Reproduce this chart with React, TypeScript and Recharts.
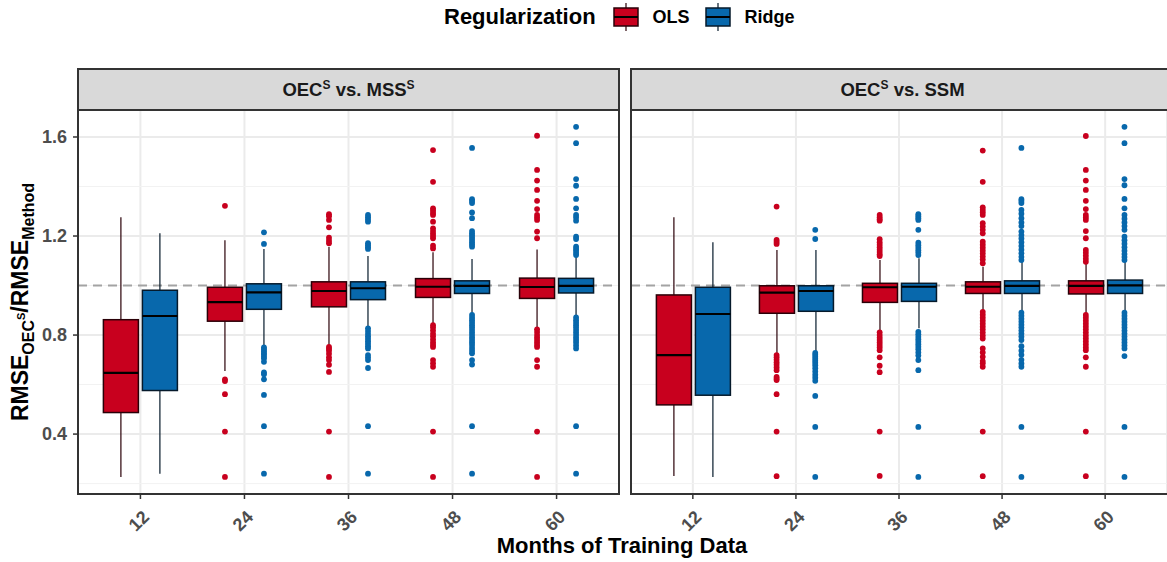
import React from "react";
import {
  ComposedChart,
  Bar,
  Scatter,
  XAxis,
  YAxis,
  CartesianGrid,
  ReferenceLine,
} from "recharts";

type Stats = [number, number, number, number, number]; // lower whisker, q1, median, q3, upper whisker

const months = ["12", "24", "36", "48", "60"];
const yTicks = [0.4, 0.8, 1.2, 1.6];
const yMinor = [0.2, 0.6, 1.0, 1.4];

const OLS_FILL = "#C8001E";
const RIDGE_FILL = "#0868AC";
const OLS_EDGE = "#2a0008";
const RIDGE_EDGE = "#061a2b";

// OEC^S vs. MSS^S
const mssOlsStats: Stats[] = [
  [0.227, 0.487, 0.647, 0.862, 1.276],
  [0.655, 0.856, 0.933, 0.993, 1.183],
  [0.759, 0.914, 0.978, 1.015, 1.157],
  [0.847, 0.952, 0.995, 1.028, 1.134],
  [0.827, 0.948, 0.994, 1.03, 1.146],
];
const mssRidgeStats: Stats[] = [
  [0.24, 0.576, 0.877, 0.981, 1.211],
  [0.757, 0.904, 0.972, 1.007, 1.148],
  [0.833, 0.943, 0.989, 1.015, 1.119],
  [0.888, 0.968, 0.999, 1.019, 1.107],
  [0.874, 0.97, 0.999, 1.029, 1.117],
];
const mssOlsOutliers: number[][] = [
  [],
  [1.322, 0.621, 0.614, 0.561, 0.41, 0.227],
  [1.288, 1.28, 1.265, 1.235, 1.193, 1.181, 1.171, 0.752, 0.745, 0.737, 0.724, 0.71, 0.699, 0.68, 0.651, 0.41, 0.227],
  [1.547, 1.419, 1.312, 1.303, 1.293, 1.285, 1.258, 1.231, 1.22, 1.21, 1.2, 1.191, 1.161, 1.15,
    0.84, 0.83, 0.818, 0.805, 0.795, 0.782, 0.77, 0.76, 0.752, 0.699, 0.686, 0.672, 0.41, 0.227],
  [1.605, 1.467, 1.424, 1.386, 1.342, 1.309, 1.285, 1.275, 1.265, 1.218, 1.191,
    0.823, 0.812, 0.8, 0.79, 0.78, 0.77, 0.76, 0.752, 0.699, 0.672, 0.41, 0.227],
];
const mssRidgeOutliers: number[][] = [
  [],
  [1.215, 1.168, 0.75, 0.743, 0.735, 0.727, 0.72, 0.712, 0.705, 0.692, 0.649, 0.642, 0.621, 0.558, 0.432, 0.24],
  [1.285, 1.276, 1.267, 1.258, 1.171, 1.163, 1.155, 1.148,
    0.827, 0.816, 0.805, 0.795, 0.785, 0.775, 0.765, 0.755, 0.746, 0.719, 0.709, 0.699, 0.667, 0.432, 0.24],
  [1.556, 1.349, 1.341, 1.333, 1.295, 1.272, 1.22, 1.211, 1.202, 1.193, 1.184, 1.175, 1.166, 1.157,
    0.881, 0.87, 0.86, 0.85, 0.84, 0.83, 0.82, 0.81, 0.8, 0.79, 0.78, 0.77, 0.76, 0.748, 0.737, 0.726, 0.699, 0.681, 0.432, 0.24],
  [1.641, 1.575, 1.43, 1.403, 1.35, 1.312, 1.285, 1.275, 1.262, 1.197, 1.188, 1.157, 1.148, 1.14, 1.131, 1.123,
    0.871, 0.86, 0.85, 0.84, 0.83, 0.82, 0.81, 0.8, 0.79, 0.78, 0.77, 0.758, 0.746, 0.432, 0.24],
];

// OEC^S vs. SSM
const ssmOlsStats: Stats[] = [
  [0.231, 0.518, 0.719, 0.962, 1.276],
  [0.726, 0.888, 0.971, 0.999, 1.144],
  [0.816, 0.932, 0.993, 1.009, 1.103],
  [0.898, 0.968, 0.995, 1.015, 1.076],
  [0.885, 0.966, 0.999, 1.019, 1.092],
];
const ssmRidgeStats: Stats[] = [
  [0.227, 0.557, 0.885, 0.993, 1.175],
  [0.736, 0.896, 0.978, 0.999, 1.144],
  [0.827, 0.936, 0.995, 1.009, 1.11],
  [0.894, 0.968, 0.999, 1.019, 1.096],
  [0.894, 0.968, 1.001, 1.022, 1.096],
];
const ssmOlsOutliers: number[][] = [
  [],
  [1.319, 1.184, 1.176, 1.168, 0.719, 0.71, 0.7, 0.69, 0.68, 0.669, 0.658, 0.631, 0.624, 0.618, 0.561, 0.41, 0.23],
  [1.285, 1.276, 1.268, 1.262, 1.187, 1.175, 1.165, 1.155, 1.145, 1.135, 1.126, 1.119,
    0.811, 0.8, 0.79, 0.78, 0.77, 0.76, 0.75, 0.739, 0.71, 0.676, 0.65, 0.41, 0.231],
  [1.545, 1.419, 1.316, 1.306, 1.296, 1.285, 1.252, 1.238, 1.225, 1.211, 1.177, 1.165, 1.153, 1.141, 1.129, 1.117, 1.105, 1.09,
    0.894, 0.882, 0.87, 0.858, 0.846, 0.834, 0.822, 0.81, 0.798, 0.786, 0.746, 0.73, 0.712, 0.695, 0.686, 0.672, 0.41, 0.23],
  [1.604, 1.467, 1.424, 1.386, 1.342, 1.309, 1.285, 1.275, 1.265, 1.22, 1.191, 1.144, 1.132, 1.12, 1.108, 1.096,
    0.881, 0.87, 0.858, 0.846, 0.834, 0.822, 0.81, 0.798, 0.786, 0.774, 0.762, 0.75, 0.739, 0.71, 0.672, 0.41, 0.23],
];
const ssmRidgeOutliers: number[][] = [
  [],
  [1.225, 1.188, 0.728, 0.72, 0.712, 0.704, 0.696, 0.688, 0.678, 0.666, 0.653, 0.64, 0.628, 0.615, 0.554, 0.429, 0.227],
  [1.288, 1.28, 1.272, 1.265, 1.225, 1.173, 1.163, 1.153, 1.143, 1.133, 1.123,
    0.813, 0.803, 0.793, 0.783, 0.773, 0.763, 0.753, 0.743, 0.73, 0.717, 0.699, 0.658, 0.429, 0.227],
  [1.556, 1.349, 1.341, 1.333, 1.305, 1.29, 1.272, 1.255, 1.24, 1.218, 1.204, 1.19, 1.175, 1.16, 1.145, 1.13, 1.116, 1.103,
    0.89, 0.878, 0.866, 0.854, 0.842, 0.83, 0.818, 0.806, 0.794, 0.78, 0.755, 0.737, 0.72, 0.7, 0.685, 0.672, 0.429, 0.227],
  [1.641, 1.575, 1.43, 1.405, 1.35, 1.312, 1.285, 1.27, 1.255, 1.24, 1.225, 1.197, 1.183, 1.169, 1.155, 1.141, 1.127, 1.115, 1.103,
    0.89, 0.878, 0.866, 0.854, 0.842, 0.83, 0.818, 0.806, 0.794, 0.782, 0.77, 0.758, 0.746, 0.715, 0.429, 0.227],
];

const DODGE = 0.1875; // half of the 0.75 dodge width, in category units
const Y_DOMAIN: [number, number] = [0.158, 1.709];

function buildRows(ols: Stats[], ridge: Stats[]) {
  return months.map((m, i) => ({
    month: m,
    olsRange: [ols[i][0], ols[i][4]],
    olsStats: ols[i],
    ridgeRange: [ridge[i][0], ridge[i][4]],
    ridgeStats: ridge[i],
  }));
}

function buildPoints(outliers: number[][], shift: number) {
  return outliers.flatMap((vals, i) => vals.map((v) => ({ pos: i + 1 + shift, value: v })));
}

// range bar [lower, upper] -> whiskers, box and median drawn inside the bar's pixel span
function boxShape(statsKey: string, fill: string, edge: string) {
  return (props: any) => {
    const { x, y, width, height, payload } = props;
    const s: Stats = payload[statsKey];
    const top = Math.min(y, y + height);
    const span = Math.abs(height);
    const lo = s[0];
    const hi = s[4];
    const py = (v: number) => top + ((hi - v) / (hi - lo)) * span;
    const cx = x + width / 2;
    return (
      <g>
        <line x1={cx} x2={cx} y1={py(hi)} y2={py(s[3])} stroke={edge} strokeWidth={1.2} />
        <line x1={cx} x2={cx} y1={py(s[1])} y2={py(lo)} stroke={edge} strokeWidth={1.2} />
        <rect
          x={x}
          y={py(s[3])}
          width={width}
          height={py(s[1]) - py(s[3])}
          fill={fill}
          stroke={edge}
          strokeWidth={1.5}
        />
        <line x1={x} x2={x + width} y1={py(s[2])} y2={py(s[2])} stroke="#000" strokeWidth={2.2} />
      </g>
    );
  };
}

const dot = (fill: string) => (p: any) => <circle cx={p.cx} cy={p.cy} r={2.9} fill={fill} />;

const renderMonthTick = (p: any) => (
  <text
    transform={`translate(${p.x - 1.5},${p.y + 22}) rotate(-45)`}
    textAnchor="middle"
    dominantBaseline="central"
    fontSize={18}
    fontWeight={700}
    fill="#4D4D4D"
  >
    {months[Math.round(p.payload.value) - 1]}
  </text>
);

interface PanelProps {
  ols: Stats[];
  ridge: Stats[];
  olsOut: number[][];
  ridgeOut: number[][];
  width: number;
  showY: boolean;
}

function Panel({ ols, ridge, olsOut, ridgeOut, width, showY }: PanelProps) {
  const rows = buildRows(ols, ridge);
  return (
    <ComposedChart
      width={width}
      height={434}
      data={rows}
      barGap={4}
      margin={{ top: 0, right: showY ? 6 : 0, bottom: 0, left: 0 }}
    >
      <CartesianGrid stroke="#EBEBEB" strokeWidth={2} />
      {yMinor.map((v) => (
        <ReferenceLine key={v} y={v} stroke="#F2F2F2" strokeWidth={1} zIndex={-60} />
      ))}
      <ReferenceLine y={1} stroke="#A3A3A3" strokeWidth={2} strokeDasharray="9 6" zIndex={-50} />
      <XAxis
        dataKey="pos"
        type="number"
        domain={[0.4, 5.6]}
        ticks={[1, 2, 3, 4, 5]}
        allowDataOverflow
        interval={0}
        axisLine={false}
        tickLine={{ stroke: "#333", strokeWidth: 1.5 }}
        tickSize={5}
        tickMargin={0}
        tick={renderMonthTick}
        height={50}
      />
      <XAxis xAxisId="cat" dataKey="month" hide padding={{ left: 10.4, right: 10.4 }} />
      <YAxis
        type="number"
        domain={Y_DOMAIN}
        ticks={yTicks}
        allowDataOverflow
        hide={!showY}
        width={78}
        axisLine={false}
        tickLine={{ stroke: "#333", strokeWidth: 1.5 }}
        tickSize={5}
        tickMargin={6}
        tickFormatter={(v: number) => v.toFixed(1)}
        tick={{ fontSize: 18, fontWeight: 700, fill: "#4D4D4D" }}
      />
      <Bar
        xAxisId="cat"
        dataKey="olsRange"
        barSize={35}
        shape={boxShape("olsStats", OLS_FILL, OLS_EDGE)}
        isAnimationActive={false}
      />
      <Bar
        xAxisId="cat"
        dataKey="ridgeRange"
        barSize={35}
        shape={boxShape("ridgeStats", RIDGE_FILL, RIDGE_EDGE)}
        isAnimationActive={false}
      />
      <Scatter data={buildPoints(olsOut, -DODGE)} dataKey="value" shape={dot(OLS_FILL)} isAnimationActive={false} />
      <Scatter data={buildPoints(ridgeOut, DODGE)} dataKey="value" shape={dot(RIDGE_FILL)} isAnimationActive={false} />
    </ComposedChart>
  );
}

function LegendKey({ fill, edge }: { fill: string; edge: string }) {
  return (
    <svg width={28} height={32} style={{ display: "block" }}>
      <line x1={14} x2={14} y1={2} y2={30} stroke={edge} strokeWidth={1.2} />
      <rect x={2} y={7} width={24} height={18} fill={fill} stroke={edge} strokeWidth={1.5} />
      <line x1={2} x2={26} y1={16} y2={16} stroke="#000" strokeWidth={2} />
    </svg>
  );
}

const stripStyle: React.CSSProperties = {
  position: "absolute",
  top: 68,
  height: 43,
  boxSizing: "border-box",
  background: "#D9D9D9",
  border: "2px solid #333",
  display: "flex",
  alignItems: "center",
  justifyContent: "center",
  fontSize: 18.5,
  fontWeight: 700,
  color: "#1A1A1A",
};

const frameStyle: React.CSSProperties = {
  position: "absolute",
  top: 109,
  height: 386,
  boxSizing: "border-box",
  border: "2px solid #333",
  pointerEvents: "none",
};

const supStyle: React.CSSProperties = { fontSize: 12, verticalAlign: 7, lineHeight: 0 };

export default function App() {
  return (
    <div
      style={{
        position: "absolute",
        left: 0,
        top: 0,
        width: 1167,
        height: 562,
        overflow: "hidden",
        background: "#fff",
        fontFamily: '"Liberation Sans", Arial, sans-serif',
      }}
    >
      {/* legend */}
      <div
        style={{
          position: "absolute",
          left: 444,
          top: 1,
          height: 32,
          display: "flex",
          alignItems: "center",
          fontWeight: 700,
          whiteSpace: "nowrap",
        }}
      >
        <span style={{ fontSize: 22, marginRight: 16 }}>Regularization</span>
        <LegendKey fill={OLS_FILL} edge={OLS_EDGE} />
        <span style={{ fontSize: 18, margin: "0 14px 0 13px" }}>OLS</span>
        <LegendKey fill={RIDGE_FILL} edge={RIDGE_EDGE} />
        <span style={{ fontSize: 18, marginLeft: 13 }}>Ridge</span>
      </div>

      {/* facet strips */}
      <div style={{ ...stripStyle, left: 77, width: 543 }}>
        <span>
          OEC<sup style={supStyle}>S</sup> vs. MSS<sup style={supStyle}>S</sup>
        </span>
      </div>
      <div style={{ ...stripStyle, left: 630, width: 545 }}>
        <span>
          OEC<sup style={supStyle}>S</sup> vs. SSM
        </span>
      </div>

      {/* panels */}
      <div style={{ position: "absolute", left: 0, top: 110 }}>
        <Panel
          ols={mssOlsStats}
          ridge={mssRidgeStats}
          olsOut={mssOlsOutliers}
          ridgeOut={mssRidgeOutliers}
          width={625}
          showY
        />
      </div>
      <div style={{ position: "absolute", left: 631, top: 110 }}>
        <Panel
          ols={ssmOlsStats}
          ridge={ssmRidgeStats}
          olsOut={ssmOlsOutliers}
          ridgeOut={ssmRidgeOutliers}
          width={536}
          showY={false}
        />
      </div>
      <div style={{ ...frameStyle, left: 77, width: 543 }} />
      <div style={{ ...frameStyle, left: 630, width: 545 }} />

      {/* axis titles */}
      <div
        style={{
          position: "absolute",
          left: 622,
          top: 546,
          transform: "translate(-50%, -50%)",
          fontSize: 22,
          fontWeight: 700,
          whiteSpace: "nowrap",
        }}
      >
        Months of Training Data
      </div>
      <div
        style={{
          position: "absolute",
          left: 20,
          top: 302,
          transform: "translate(-50%, -50%) rotate(-90deg)",
          fontSize: 23,
          fontWeight: 700,
          whiteSpace: "nowrap",
        }}
      >
        RMSE
        <sub style={{ fontSize: 16, verticalAlign: -6, lineHeight: 0 }}>
          OEC<sup style={{ fontSize: 11, verticalAlign: 9, lineHeight: 0 }}>S</sup>
        </sub>
        /RMSE
        <sub style={{ fontSize: 16, verticalAlign: -6, lineHeight: 0 }}>Method</sub>
      </div>
    </div>
  );
}
